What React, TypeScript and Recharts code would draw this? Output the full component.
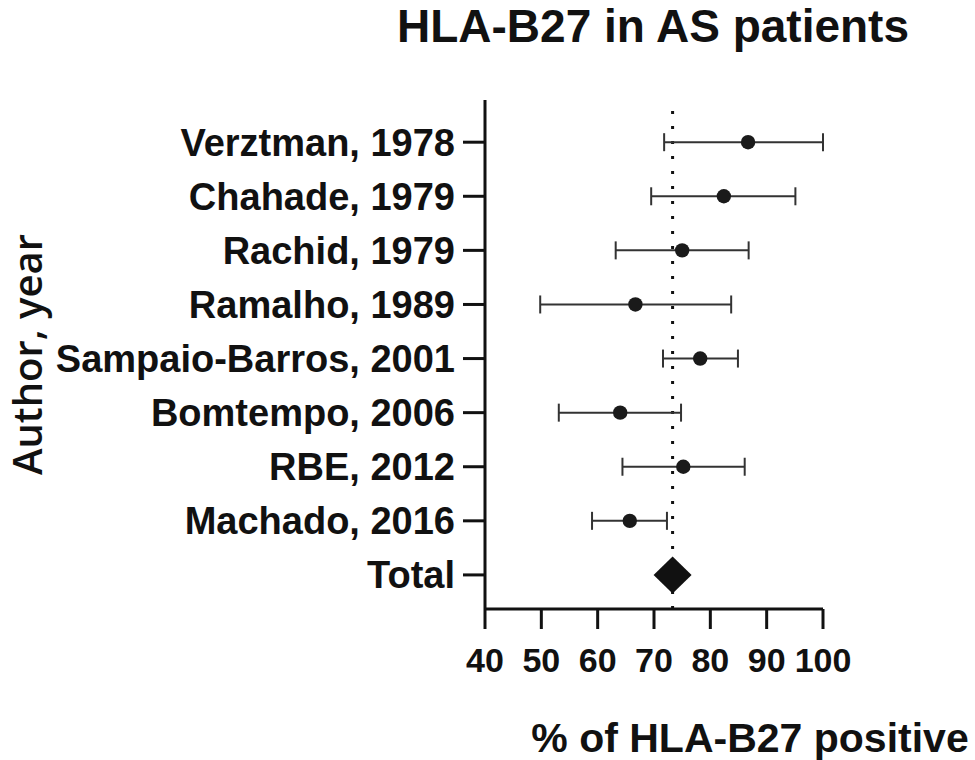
import React from "react";
import {
  ComposedChart,
  Scatter,
  XAxis,
  YAxis,
  ErrorBar,
  ReferenceLine,
  Label,
} from "recharts";

const authors = [
  "Verztman, 1978",
  "Chahade, 1979",
  "Rachid, 1979",
  "Ramalho, 1989",
  "Sampaio-Barros, 2001",
  "Bomtempo, 2006",
  "RBE, 2012",
  "Machado, 2016",
  "Total",
];
const estimates = [86.7, 82.4, 75.0, 66.7, 78.2, 64.0, 75.2, 65.7];
const lowerCI = [71.8, 69.5, 63.2, 49.8, 71.6, 53.1, 64.4, 59.0];
const upperCI = [100, 95.1, 86.8, 83.7, 84.9, 74.8, 86.1, 72.3];
const pooledEstimate = 73.3;
const xTicks = [40, 50, 60, 70, 80, 90, 100];

const studyData = estimates.map((v, i) => ({
  x: v,
  y: i,
  err: [v - lowerCI[i], upperCI[i] - v],
}));
const totalData = [{ x: pooledEstimate, y: authors.length - 1 }];
const yTicks = authors.map((_, i) => i);

const FONT = '"Liberation Sans", Arial, Helvetica, sans-serif';

const Dot = (props: any) => (
  <circle cx={props.cx} cy={props.cy} r={7.2} fill="#1a1a1a" />
);
const Diamond = (props: any) => {
  const { cx, cy } = props;
  const w = 19;
  const h = 18.5;
  return (
    <polygon
      points={`${cx - w},${cy} ${cx},${cy - h} ${cx + w},${cy} ${cx},${cy + h}`}
      fill="#111"
    />
  );
};

export default function App() {
  return (
    <div style={{ position: "absolute", left: 0, top: 0, width: 975, height: 760, background: "#fff" }}>
      <ComposedChart
        width={975}
        height={760}
        margin={{ top: 100, right: 152, bottom: 0, left: 0 }}
      >
        <XAxis
          type="number"
          dataKey="x"
          domain={[40, 100]}
          ticks={xTicks}
          interval={0}
          height={151}
          tickSize={20}
          tickMargin={19}
          axisLine={{ stroke: "#111", strokeWidth: 3 }}
          tickLine={{ stroke: "#111", strokeWidth: 3 }}
          tick={{ fill: "#111", fontSize: 34, fontWeight: "bold", fontFamily: FONT }}
        >
          <Label
            content={(p: any) => {
              const vb = p.viewBox;
              const cx = vb.x + vb.width / 2 + 96;
              return (
                <text
                  x={cx}
                  y={752}
                  textAnchor="middle"
                  fill="#111"
                  fontSize={41}
                  fontWeight="bold"
                  fontFamily={FONT}
                >
                  % of HLA-B27 positive
                </text>
              );
            }}
          />
        </XAxis>
        <YAxis
          type="number"
          dataKey="y"
          reversed
          domain={[-0.78, 8.63]}
          ticks={yTicks}
          interval={0}
          width={485}
          tickSize={22}
          tickMargin={8}
          tickFormatter={(v: number) => authors[v] ?? ""}
          axisLine={{ stroke: "#111", strokeWidth: 3 }}
          tickLine={{ stroke: "#111", strokeWidth: 3 }}
          tick={{ fill: "#111", fontSize: 38, fontWeight: "bold", fontFamily: FONT }}
        >
          <Label
            content={(p: any) => {
              const vb = p.viewBox;
              const x = vb.x + 42;
              const y = vb.y + vb.height / 2;
              return (
                <text
                  x={x}
                  y={y}
                  transform={`rotate(-90 ${x} ${y})`}
                  textAnchor="middle"
                  fill="#111"
                  fontSize={40}
                  fontWeight={600}
                  fontFamily='"Open Sans", "Noto Sans", sans-serif'
                >
                  Author, year
                </text>
              );
            }}
          />
        </YAxis>
        <ReferenceLine
          x={pooledEstimate}
          stroke="#111"
          strokeWidth={3}
          strokeDasharray="3 12"
        />
        <Scatter data={studyData} shape={Dot} isAnimationActive={false}>
          <ErrorBar
            dataKey="err"
            direction="x"
            width={9}
            stroke="#333"
            strokeWidth={2}
            isAnimationActive={false}
          />
        </Scatter>
        <Scatter data={totalData} shape={Diamond} isAnimationActive={false} />
      </ComposedChart>
      <svg
        width={975}
        height={60}
        style={{ position: "absolute", left: 0, top: 0, pointerEvents: "none" }}
      >
        <text
          x={653}
          y={42}
          textAnchor="middle"
          fill="#111"
          fontSize={46}
          fontWeight="bold"
          fontFamily={FONT}
        >
          HLA-B27 in AS patients
        </text>
      </svg>
    </div>
  );
}
